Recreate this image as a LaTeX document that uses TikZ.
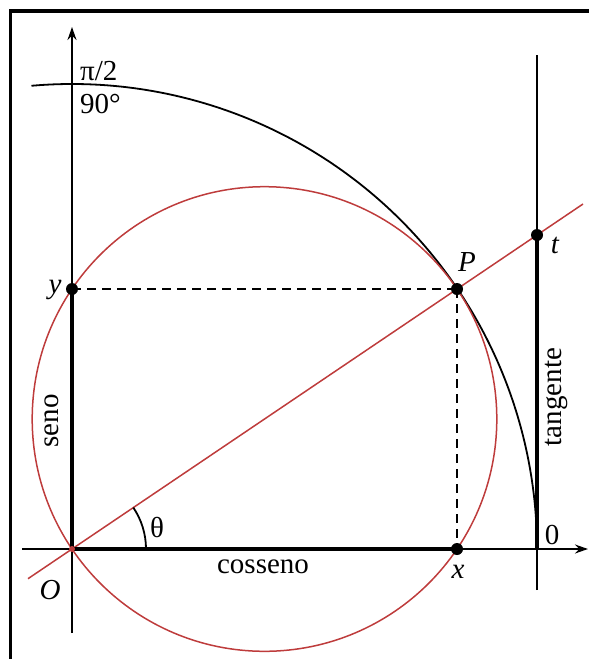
\documentclass[tikz,border=0pt]{standalone}
\usepackage{fontspec}
\setmainfont{Liberation Serif}
\usetikzlibrary{arrows.meta}
\definecolor{redc}{RGB}{190,60,60}
\begin{document}
\begin{tikzpicture}[x=1pt,y=1pt,
  axis/.style={line width=1.8pt,-{Stealth[length=13pt,width=9pt]}},
  heavy/.style={line width=4pt},
  thin line/.style={line width=1.8pt},
  redline/.style={draw=redc,line width=1.5pt},
  dashline/.style={line width=1.8pt,dash pattern=on 9pt off 6pt},
  dot/.style={circle,fill=black,inner sep=0pt,minimum size=12pt},
  lbl/.style={font=\fontsize{29}{29}\selectfont,inner sep=0pt},
  ilbl/.style={font=\fontsize{29}{29}\selectfont\itshape,inner sep=0pt}]
\useasboundingbox (0,0) rectangle (589,-659);
% frame
\draw[line width=3.5pt] (10.5,-659) -- (10.5,-11) -- (589,-11);
% key points
\coordinate (O) at (72,-549);
\coordinate (X) at (457,-549);
\coordinate (Y) at (72,-289);
\coordinate (P) at (457,-289);
\coordinate (T) at (537,-235);
\coordinate (C) at (264.5,-419);
\coordinate (hl) at (22,-549);
\coordinate (hr) at (588,-549);
\coordinate (vb) at (72,-633);
\coordinate (vt) at (72,-27);
\coordinate (tt) at (537,-55);
\coordinate (tb) at (537,-590);
\coordinate (tz) at (537,-549);
\coordinate (rl) at (28,-578.7);
\coordinate (rr) at (583,-204);
% axes
\draw[axis] (hl) -- (hr);
\draw[axis] (vb) -- (vt);
\draw[thin line] (tb) -- (tt);
% big black arc
\draw[thin line] (O) ++(95:465) arc[start angle=95,end angle=0,radius=465];
% red circle and line
\draw[redline] (C) circle[radius=232.3];
\draw[redline] (rl) -- (rr);
% heavy segments
\draw[heavy] (O) -- (X);
\draw[heavy] (O) -- (Y);
\draw[heavy] (tz) -- (T);
% dashed
\draw[dashline] (Y) -- (P);
\draw[dashline] (P) -- (X);
% angle arc
\draw[thin line] (O) ++(0:74) arc[start angle=0,end angle=34.03,radius=74];
% dots
\node[dot] (Pd) at (P) {};
\node[dot] (Xd) at (X) {};
\node[dot] (Yd) at (Y) {};
\node[dot] (Td) at (T) {};
\fill[redc] (O) circle[radius=3pt];
% labels
\node[lbl,anchor=west] (pi2) at (80,-71) {π/2};
\node[lbl,anchor=west] (d90) at (80,-104) {90°};
\node[ilbl] (ly) at (55,-290) {y};
\node[ilbl] (lP) at (467,-262) {P};
\node[ilbl] (lt) at (555,-245) {t};
\node[lbl,rotate=90] (seno) at (52,-421) {seno};
\node[lbl,rotate=90] (tang) at (556,-397) {tangente};
\node[lbl] (th) at (157,-527) {θ};
\node[lbl] (cos) at (263,-567) {cosseno};
\node[ilbl] (lx) at (458,-572) {x};
\node[ilbl] (lO) at (50,-590) {O};
\node[lbl] (l0) at (552,-535) {0};
\end{tikzpicture}
\end{document}
